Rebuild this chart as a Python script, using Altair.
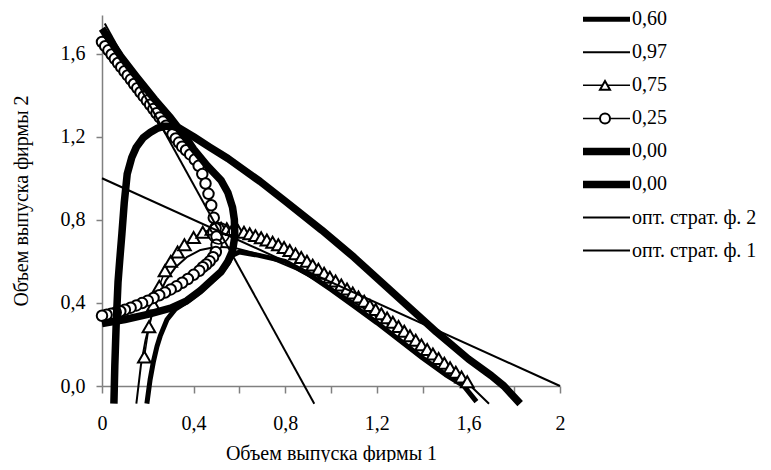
import altair as alt
import pandas as pd

# ---- data (q1 = output of firm 1, q2 = output of firm 2) ----
# "0,60" thick curve
r_q1 = [0.196, 0.21, 0.225, 0.24, 0.254, 0.284, 0.32, 0.37, 0.43, 0.48, 0.52, 0.55, 0.57, 0.60, 0.68, 0.80, 0.90, 1.00, 1.10, 1.20, 1.30, 1.40, 1.50, 1.58, 1.635]
r_q2 = [-0.085, 0.03, 0.12, 0.19, 0.24, 0.32, 0.37, 0.405, 0.455, 0.505, 0.545, 0.59, 0.63, 0.645, 0.63, 0.60, 0.54, 0.465, 0.385, 0.305, 0.22, 0.135, 0.055, 0.0, -0.075]
# "0,97" thin curve
t_q1 = [0.15, 0.17, 0.19, 0.215, 0.245, 0.28, 0.32, 0.37, 0.43, 0.50, 0.58, 0.70, 0.85, 1.00, 1.15, 1.30, 1.45, 1.61, 1.69]
t_q2 = [-0.085, 0.10, 0.22, 0.33, 0.43, 0.51, 0.57, 0.62, 0.655, 0.67, 0.665, 0.63, 0.56, 0.47, 0.37, 0.26, 0.14, 0.0, -0.085]
# "0,75" triangles
tri_q1 = [0.185, 0.205, 0.225, 0.25, 0.275, 0.30, 0.33, 0.36, 0.40, 0.44, 0.48, 0.52,
          0.545, 0.57, 0.595, 0.62, 0.645, 0.67, 0.695, 0.72, 0.745, 0.77, 0.795, 0.82, 0.845, 0.87,
          0.895, 0.92, 0.945, 0.97, 0.995, 1.02, 1.045, 1.07, 1.095, 1.12, 1.145, 1.17, 1.195, 1.22,
          1.245, 1.27, 1.295, 1.32, 1.345, 1.37, 1.395, 1.42, 1.445, 1.47, 1.495, 1.52, 1.545, 1.57, 1.595]
tri_q2 = [0.14, 0.285, 0.39, 0.48, 0.555, 0.60, 0.645, 0.68, 0.715, 0.74, 0.755, 0.76,
          0.757, 0.753, 0.746, 0.74, 0.733, 0.724, 0.714, 0.703, 0.692, 0.68, 0.667, 0.652, 0.636, 0.619,
          0.601, 0.582, 0.562, 0.543, 0.524, 0.505, 0.486, 0.467, 0.448, 0.428, 0.408, 0.388, 0.368, 0.348,
          0.328, 0.307, 0.286, 0.264, 0.242, 0.22, 0.198, 0.176, 0.154, 0.132, 0.11, 0.088, 0.066, 0.043, 0.02]
# "0,25" circles
cir_q1 = [0.0, 0.014, 0.028, 0.042, 0.056, 0.070, 0.084, 0.098, 0.112, 0.126, 0.140, 0.154, 0.168, 0.182,
          0.196, 0.210, 0.224, 0.238, 0.252, 0.266, 0.280, 0.294, 0.308, 0.322, 0.336, 0.350,
          0.367, 0.385, 0.405, 0.422, 0.438, 0.452, 0.465, 0.477, 0.488, 0.496, 0.50, 0.50, 0.497, 0.485,
          0.47, 0.455, 0.44, 0.425, 0.40, 0.375, 0.35, 0.325, 0.30, 0.275, 0.25, 0.225, 0.20, 0.175,
          0.15, 0.125, 0.10, 0.08, 0.06, 0.04, 0.02, 0.0]
cir_q2 = [1.656, 1.636, 1.616, 1.596, 1.575, 1.555, 1.535, 1.515, 1.495, 1.475, 1.454, 1.434, 1.414, 1.394,
          1.374, 1.354, 1.333, 1.313, 1.293, 1.273, 1.253, 1.233, 1.212, 1.192, 1.172, 1.152,
          1.135, 1.115, 1.09, 1.06, 1.02, 0.975, 0.925, 0.87, 0.81, 0.76, 0.72, 0.68, 0.645, 0.62,
          0.60, 0.585, 0.572, 0.555, 0.535, 0.515, 0.497, 0.48, 0.465, 0.45, 0.437, 0.424, 0.411, 0.399,
          0.388, 0.377, 0.367, 0.36, 0.354, 0.348, 0.343, 0.338]
eq_q1 = [0.51]
eq_q2 = [0.735]
# "0,00" first very thick curve
q_q1 = [0.052, 0.056, 0.062, 0.070, 0.077, 0.087, 0.097, 0.11, 0.13, 0.15, 0.18, 0.21, 0.24, 0.27, 0.31, 0.34,
        0.40, 0.47, 0.55, 0.62, 0.69, 0.80, 0.96, 1.10, 1.20, 1.33, 1.46, 1.60, 1.70, 1.755, 1.826]
q_q2 = [-0.085, 0.1, 0.3, 0.5, 0.6, 0.735, 0.88, 1.02, 1.10, 1.15, 1.195, 1.22, 1.24, 1.25, 1.25, 1.24,
        1.20, 1.15, 1.095, 1.04, 0.985, 0.89, 0.75, 0.62, 0.52, 0.39, 0.26, 0.13, 0.05, 0.0, -0.085]
# "0,00" second very thick curve
p_q1 = [0.0, 0.1, 0.2, 0.3, 0.37, 0.43, 0.48, 0.52, 0.55, 0.57, 0.58, 0.578, 0.57, 0.55, 0.52, 0.46, 0.40,
        0.37, 0.30, 0.23, 0.15, 0.08, 0.0]
p_q2 = [0.30, 0.32, 0.345, 0.375, 0.41, 0.46, 0.51, 0.55, 0.60, 0.65, 0.72, 0.80, 0.86, 0.93, 0.99, 1.06, 1.14,
        1.19, 1.29, 1.38, 1.49, 1.59, 1.72]
# optimal strategies
o2_q1 = [0.0, 2.0]
o2_q2 = [1.0, 0.0]
o1_q1 = [0.012, 0.927]
o1_q2 = [1.745, -0.085]

# legend
leg_labels = ["0,60", "0,97", "0,75", "0,25", "0,00", "0,00", "опт. страт. ф. 2", "опт. страт. ф. 1"]
leg_width = [5, 2, 1.5, 1.5, 7.5, 7.5, 2, 2]
leg_shape = ["none", "none", "triangle-up", "circle", "none", "none", "none", "none"]

FONT = "'Liberation Serif', 'Times New Roman', serif"


def df(a, b):
    return pd.DataFrame({"q1": a, "q2": b, "i": list(range(len(a)))})


X = alt.X("q1:Q", scale=alt.Scale(domain=[0, 2], nice=False, zero=False),
          axis=alt.Axis(values=[0, 0.2, 0.4, 0.6, 0.8, 1.0, 1.2, 1.4, 1.6, 1.8, 2.0],
                        labelExpr="round(datum.value*10) % 4 == 0 ? (datum.value == 0 ? '0' : (datum.value == 2 ? '2' : replace(format(datum.value, '.1f'), '.', ','))) : ''",
                        title="Объем выпуска фирмы 1", tickSize=7, labelPadding=20, titlePadding=10,
                        labelFlush=False, labelOverlap=False, grid=False))
Y = alt.Y("q2:Q", scale=alt.Scale(domain=[0, 1.786], nice=False, zero=False),
          axis=alt.Axis(values=[0, 0.4, 0.8, 1.2, 1.6],
                        labelExpr="replace(format(datum.value, '.1f'), '.', ',')",
                        title="Объем выпуска фирмы 2", tickSize=6, labelPadding=11, titlePadding=29,
                        labelFlush=False, labelOverlap=False, grid=False))


def line(a, b, w):
    return alt.Chart(df(a, b)).mark_line(color="black", strokeWidth=w, strokeJoin="round").encode(
        x=X, y=Y, order="i:Q")


def pts(a, b, shape, size, fill="white"):
    return alt.Chart(df(a, b)).mark_point(shape=shape, size=size, filled=True, fill=fill, stroke="black",
                                          strokeWidth=2, opacity=1).encode(x=X, y=Y, order="i:Q")


main = alt.layer(
    line(r_q1, r_q2, 5),
    line(t_q1, t_q2, 2),
    line(tri_q1, tri_q2, 1.5),
    pts(tri_q1, tri_q2, "triangle-up", 160),
    line(cir_q1, cir_q2, 1.5),
    pts(cir_q1, cir_q2, "circle", 110),
    alt.Chart(df(eq_q1, eq_q2)).mark_point(shape="circle", size=450, filled=False, stroke="black",
                                           strokeWidth=1.5, opacity=1).encode(x=X, y=Y),
    line(q_q1, q_q2, 7.5),
    line(p_q1, p_q2, 7.5),
    line(o2_q1, o2_q2, 2),
    line(o1_q1, o1_q2, 2),
)

leg = pd.DataFrame({"idx": list(range(len(leg_labels))), "label": leg_labels, "w": leg_width, "shape": leg_shape})
LY = alt.Y("idx:Q", scale=alt.Scale(domain=[-0.13, 11.1], reverse=True, nice=False, zero=False), axis=None)

legend = alt.layer(
    alt.Chart(leg).mark_rule(color="black").encode(
        y=LY, x=alt.value(481), x2=alt.value(528), strokeWidth=alt.StrokeWidth("w:Q", scale=None)),
    alt.Chart(leg).transform_filter("datum.shape != 'none'").mark_point(
        size=100, filled=True, fill="white", stroke="black", strokeWidth=2, opacity=1).encode(
        y=LY, x=alt.value(503), shape=alt.Shape("shape:N", scale=None)),
    alt.Chart(leg).mark_text(align="left", baseline="middle", font=FONT, fontSize=20, color="black").encode(
        y=LY, x=alt.value(530), text="label:N"),
)

chart = alt.layer(main, legend).resolve_scale(y="independent").properties(
    width=458, height=371,
    autosize=alt.AutoSizeParams(type="none"),
    padding={"left": 94, "top": 7, "right": 200, "bottom": 76},
).configure_view(stroke=None).configure_axis(
    labelFont=FONT, titleFont=FONT, labelFontSize=20, titleFontSize=20, labelColor="black",
    titleColor="black", titleFontWeight="normal", domainColor="#808080", tickColor="#808080",
    domainWidth=1.5, tickWidth=1.5)

chart.save("out.html", embed_options={"renderer": "svg", "actions": False})
